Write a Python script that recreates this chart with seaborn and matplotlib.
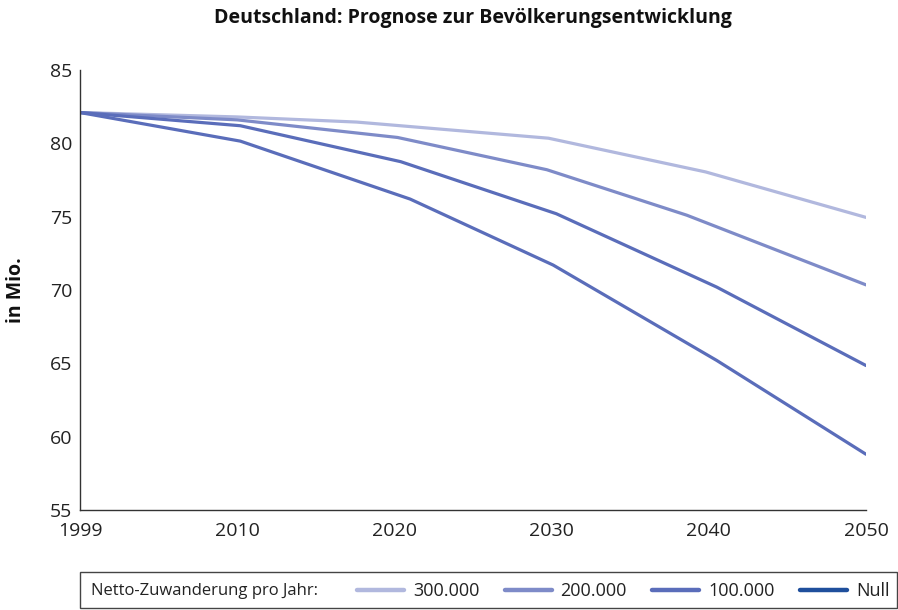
import matplotlib
matplotlib.use("Agg")
import matplotlib.pyplot as plt
from matplotlib.lines import Line2D
from matplotlib.patches import Rectangle
import pandas as pd
import seaborn as sns

# Prognose in Mio. Einwohner; x positions are on the axis year scale
# (the first category "1999" sits one step left of 2010)
x_300 = [2000, 2010, 2017.6, 2029.8, 2039.8, 2050]
v_300 = [82.1, 81.8, 81.45, 80.35, 78.05, 74.95]
x_200 = [2000, 2010, 2020.2, 2029.7, 2038.6, 2050]
v_200 = [82.1, 81.6, 80.4, 78.2, 75.1, 70.35]
x_100 = [2000, 2010.2, 2020.4, 2030.3, 2040.5, 2050]
v_100 = [82.1, 81.2, 78.75, 75.2, 70.2, 64.85]
x_null = [2000, 2010.2, 2021.0, 2030.1, 2040.5, 2050]
v_null = [82.1, 80.15, 76.2, 71.7, 65.2, 58.8]

series_names = ["300.000", "200.000", "100.000", "Null"]
tick_pos = [2000, 2010, 2020, 2030, 2040, 2050]
tick_labels = ["1999", "2010", "2020", "2030", "2040", "2050"]

line_colors = ["#b1b8de", "#7e8bc8", "#5a6dba", "#5a6dba"]
legend_colors = ["#b1b8de", "#7e8bc8", "#5a6dba", "#1f4f9c"]

frames = []
for name, xs, vs in zip(series_names,
                        [x_300, x_200, x_100, x_null],
                        [v_300, v_200, v_100, v_null]):
    frames.append(pd.DataFrame({"jahr": xs, "mio": vs, "szenario": name}))
df = pd.concat(frames, ignore_index=True)

sns.set_theme(style="white")
plt.rcParams["font.family"] = ["Open Sans", "DejaVu Sans"]

fig = plt.figure(figsize=(8.98, 6.10), dpi=100)
ax = fig.add_axes([80 / 898, 1 - 510 / 610, 786 / 898, 440 / 610])

sns.lineplot(data=df, x="jahr", y="mio", hue="szenario", hue_order=series_names,
             palette=dict(zip(series_names, line_colors)), estimator=None,
             linewidth=2.3, legend=False, ax=ax)

ax.set_xlim(2000, 2050)
ax.set_ylim(55, 85)
ax.set_xticks(tick_pos)
ax.set_xticklabels(tick_labels)
ax.set_yticks([55, 60, 65, 70, 75, 80, 85])
ax.set_xlabel("")
ax.set_ylabel("in Mio.", fontsize=14, fontweight="bold", color="#111111", labelpad=17)

for side in ["top", "right"]:
    ax.spines[side].set_visible(False)
for side in ["left", "bottom"]:
    ax.spines[side].set_color("#333333")
    ax.spines[side].set_linewidth(1.0)
ax.tick_params(axis="both", direction="inout", length=7, width=1.0, color="#333333",
               labelsize=14, labelcolor="#222222", pad=2)
ax.tick_params(axis="x", pad=5)

fig.text(473 / 898, 1 - 18 / 610, "Deutschland: Prognose zur Bevölkerungsentwicklung",
         ha="center", va="center", fontsize=14, fontweight="bold", color="#111111")

# legend strip at the bottom
fig.patches.append(Rectangle((80 / 898, 1 - 608 / 610), 817 / 898, 36 / 610,
                             transform=fig.transFigure, fill=False,
                             edgecolor="#444444", linewidth=1.0))
fig.text(91 / 898, 1 - 591 / 610, "Netto-Zuwanderung pro Jahr:", ha="left", va="center",
         fontsize=12, color="#222222")
handles = [Line2D([], [], color=c, linewidth=3.2) for c in legend_colors]
fig.legend(handles, series_names, loc="center left", bbox_to_anchor=(357 / 898, 1 - 591 / 610),
           ncol=4, frameon=False, fontsize=13, handlelength=2.6, handletextpad=0.5,
           columnspacing=1.4, borderaxespad=0, borderpad=0, labelcolor="#222222")

fig.savefig("out.png", dpi=100)
